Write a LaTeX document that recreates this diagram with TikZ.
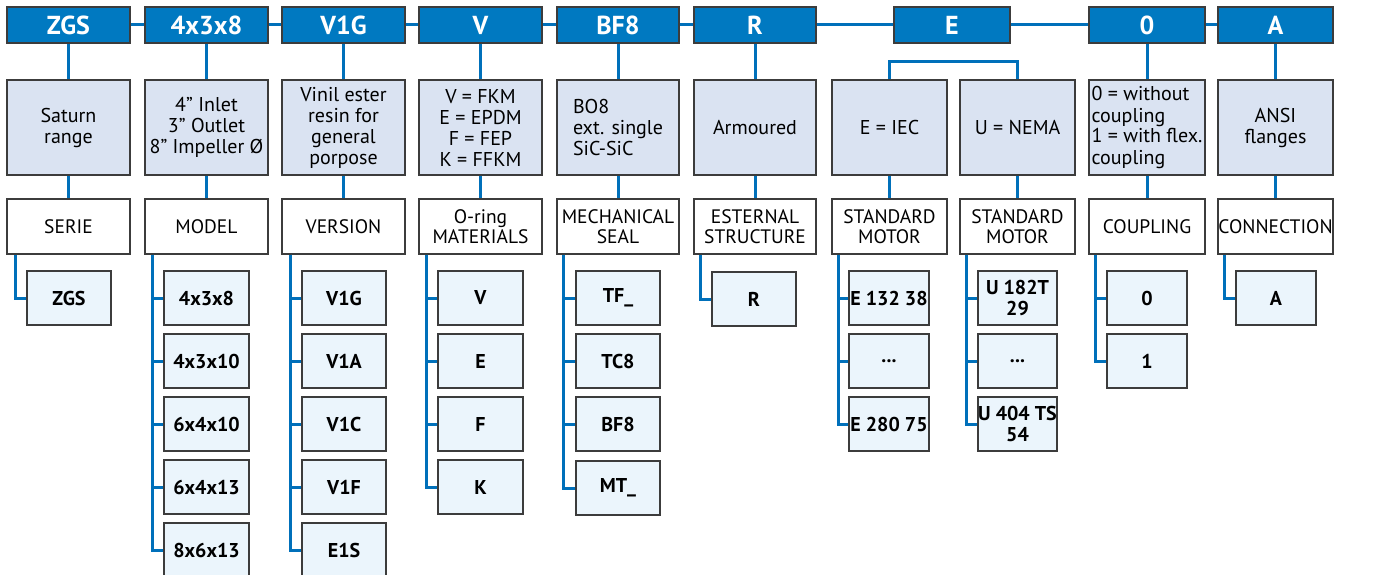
\documentclass[tikz,border=0pt]{standalone}
\usepackage{fontspec}
\setmainfont{PT Sans}
\definecolor{topblue}{HTML}{0079C1}
\definecolor{lineblue}{HTML}{0070BA}
\definecolor{descfill}{HTML}{DAE3F2}
\definecolor{itemfill}{HTML}{EBF5FC}
\definecolor{edgegray}{HTML}{3C3C3C}
\tikzset{
  topbox/.style={draw=edgegray, line width=1.3pt, fill=topblue, text=white,
    font=\bfseries\fontsize{26}{28}\selectfont, minimum height=36pt, inner sep=0pt},
  descbox/.style={draw=edgegray, line width=1.3pt, fill=descfill,
    font=\fontsize{20}{21}\selectfont, minimum height=95pt, align=center, inner sep=0pt},
  catbox/.style={draw=edgegray, line width=1.3pt, fill=white,
    font=\fontsize{19.5}{20.5}\selectfont, minimum height=55pt, align=center, inner sep=0pt},
  itembox/.style={draw=edgegray, line width=1.3pt, fill=itemfill,
    font=\bfseries\fontsize{20}{21}\selectfont, minimum height=54pt, align=center, inner sep=0pt},
  conn/.style={draw=lineblue, line width=3pt},
}
\begin{document}
\begin{tikzpicture}[x=1pt,y=-1pt]
\useasboundingbox (0,0) rectangle (1375,575);
% top row
\node[topbox, minimum width=123pt] (t1) at (68.5,25) {ZGS};
\node[topbox, minimum width=123pt] (t2) at (206.5,25) {4x3x8};
\node[topbox, minimum width=123pt] (t3) at (343.5,25) {V1G};
\node[topbox, minimum width=123pt] (t4) at (480.5,25) {V};
\node[topbox, minimum width=122pt] (t5) at (618,25) {BF8};
\node[topbox, minimum width=122pt] (t6) at (755,25) {R};
\node[topbox, minimum width=116pt] (t7) at (952,25) {E};
\node[topbox, minimum width=116pt] (t8) at (1147,25) {0};
\node[topbox, minimum width=115pt] (t9) at (1275.5,25) {A};
\draw[conn] (t1.east) -- (t2.west);
\draw[conn] (t2.east) -- (t3.west);
\draw[conn] (t3.east) -- (t4.west);
\draw[conn] (t4.east) -- (t5.west);
\draw[conn] (t5.east) -- (t6.west);
\draw[conn] (t6.east) -- (t7.west);
\draw[conn] (t7.east) -- (t8.west);
\draw[conn] (t8.east) -- (t9.west);
% description row
\node[descbox, minimum width=123pt] (d1) at (68.5,127.5) {Saturn\\range};
\node[descbox, minimum width=123pt] (d2) at (206.5,127.5) {4” Inlet\\3” Outlet\\8” Impeller Ø};
\node[descbox, minimum width=123pt] (d3) at (343.5,127.5) {Vinil ester\\resin for\\general\\porpose};
\node[descbox, minimum width=123pt] (d4) at (480.5,127.5) {V = FKM\\E = EPDM\\F = FEP\\K = FFKM};
\node[descbox, minimum width=122pt, align=left] (d5) at (618,127.5) {BO8\\ext. single\\SiC-SiC};
\node[descbox, minimum width=122pt] (d6) at (755,127.5) {Armoured};
\node[descbox, minimum width=115pt] (d7) at (889.5,127.5) {E = IEC};
\node[descbox, minimum width=115pt] (d8) at (1017.5,127.5) {U = NEMA};
\node[descbox, minimum width=116pt, align=left] (d9) at (1147,127.5) {0 = without\\coupling\\1 = with flex.\\coupling};
\node[descbox, minimum width=115pt] (d10) at (1275.5,127.5) {ANSI\\flanges};
% category row
\node[catbox, minimum width=123pt] (s1) at (68.5,226.5) {SERIE};
\node[catbox, minimum width=123pt] (s2) at (206.5,226.5) {MODEL};
\node[catbox, minimum width=123pt] (s3) at (343.5,226.5) {VERSION};
\node[catbox, minimum width=123pt] (s4) at (480.5,226.5) {O-ring\\MATERIALS};
\node[catbox, minimum width=122pt] (s5) at (618,226.5) {MECHANICAL\\SEAL};
\node[catbox, minimum width=122pt] (s6) at (755,226.5) {ESTERNAL\\STRUCTURE};
\node[catbox, minimum width=115pt] (s7) at (889.5,226.5) {STANDARD\\MOTOR};
\node[catbox, minimum width=115pt] (s8) at (1017.5,226.5) {STANDARD\\MOTOR};
\node[catbox, minimum width=116pt] (s9) at (1147,226.5) {COUPLING};
\node[catbox, minimum width=115pt] (s10) at (1275.5,226.5) {CONNECTION};
% vertical connectors
\foreach \i in {1,...,6} {\draw[conn] (t\i) -- (d\i);}
\draw[conn] (t8) -- (d9);
\draw[conn] (t9) -- (d10);
\coordinate (eb) at (952,62);
\draw[conn] (d7.north) |- (eb) -| (d8.north);
\foreach \i in {1,...,10} {\draw[conn] (d\i) -- (s\i);}
% items
\node[itembox, minimum width=84pt] (a1) at (69,298) {ZGS};
\node[itembox, minimum width=85pt] (b1) at (206.5,298) {4x3x8};
\node[itembox, minimum width=85pt] (b2) at (206.5,361) {4x3x10};
\node[itembox, minimum width=85pt] (b3) at (206.5,424) {6x4x10};
\node[itembox, minimum width=85pt] (b4) at (206.5,487) {6x4x13};
\node[itembox, minimum width=85pt] (b5) at (206.5,550) {8x6x13};
\node[itembox, minimum width=84pt] (c1) at (344,298) {V1G};
\node[itembox, minimum width=84pt] (c2) at (344,361) {V1A};
\node[itembox, minimum width=84pt] (c3) at (344,424) {V1C};
\node[itembox, minimum width=84pt] (c4) at (344,487) {V1F};
\node[itembox, minimum width=84pt] (c5) at (344,550) {E1S};
\node[itembox, minimum width=85pt] (e1) at (480.5,298) {V};
\node[itembox, minimum width=85pt] (e2) at (480.5,361) {E};
\node[itembox, minimum width=85pt] (e3) at (480.5,424) {F};
\node[itembox, minimum width=85pt] (e4) at (480.5,487) {K};
\node[itembox, minimum width=84pt] (f1) at (618,298) {TF\_};
\node[itembox, minimum width=84pt] (f2) at (618,361) {TC8};
\node[itembox, minimum width=84pt] (f3) at (618,424) {BF8};
\node[itembox, minimum width=84pt] (f4) at (618,488) {MT\_};
\node[itembox, minimum width=84pt] (g1) at (754,299) {R};
\node[itembox, minimum width=80pt] (h1) at (889,298) {E 132 38};
\node[itembox, minimum width=80pt] (h2) at (889,361) {...};
\node[itembox, minimum width=80pt] (h3) at (889,424) {E 280 75};
\node[itembox, minimum width=79pt] (k1) at (1017.5,298) {U 182T\\29};
\node[itembox, minimum width=79pt] (k2) at (1017.5,361) {...};
\node[itembox, minimum width=79pt] (k3) at (1017.5,424) {U 404 TS\\54};
\node[itembox, minimum width=80pt] (m1) at (1147,298) {0};
\node[itembox, minimum width=80pt] (m2) at (1147,361) {1};
\node[itembox, minimum width=80pt] (n1) at (1276,298) {A};
% tree connectors
\draw[conn] ([xshift=9pt]s1.south west) |- (a1.west);
\foreach \j in {1,...,5} {\draw[conn] ([xshift=8pt]s2.south west) |- (b\j.west);}
\foreach \j in {1,...,5} {\draw[conn] ([xshift=9pt]s3.south west) |- (c\j.west);}
\foreach \j in {1,...,4} {\draw[conn] ([xshift=8pt]s4.south west) |- (e\j.west);}
\foreach \j in {1,...,4} {\draw[conn] ([xshift=7pt]s5.south west) |- (f\j.west);}
\draw[conn] ([xshift=7pt]s6.south west) |- (g1.west);
\foreach \j in {1,...,3} {\draw[conn] ([xshift=7pt]s7.south west) |- (h\j.west);}
\foreach \j in {1,...,3} {\draw[conn] ([xshift=7pt]s8.south west) |- (k\j.west);}
\foreach \j in {1,2} {\draw[conn] ([xshift=7pt]s9.south west) |- (m\j.west);}
\draw[conn] ([xshift=7pt]s10.south west) |- (n1.west);
\end{tikzpicture}
\end{document}
